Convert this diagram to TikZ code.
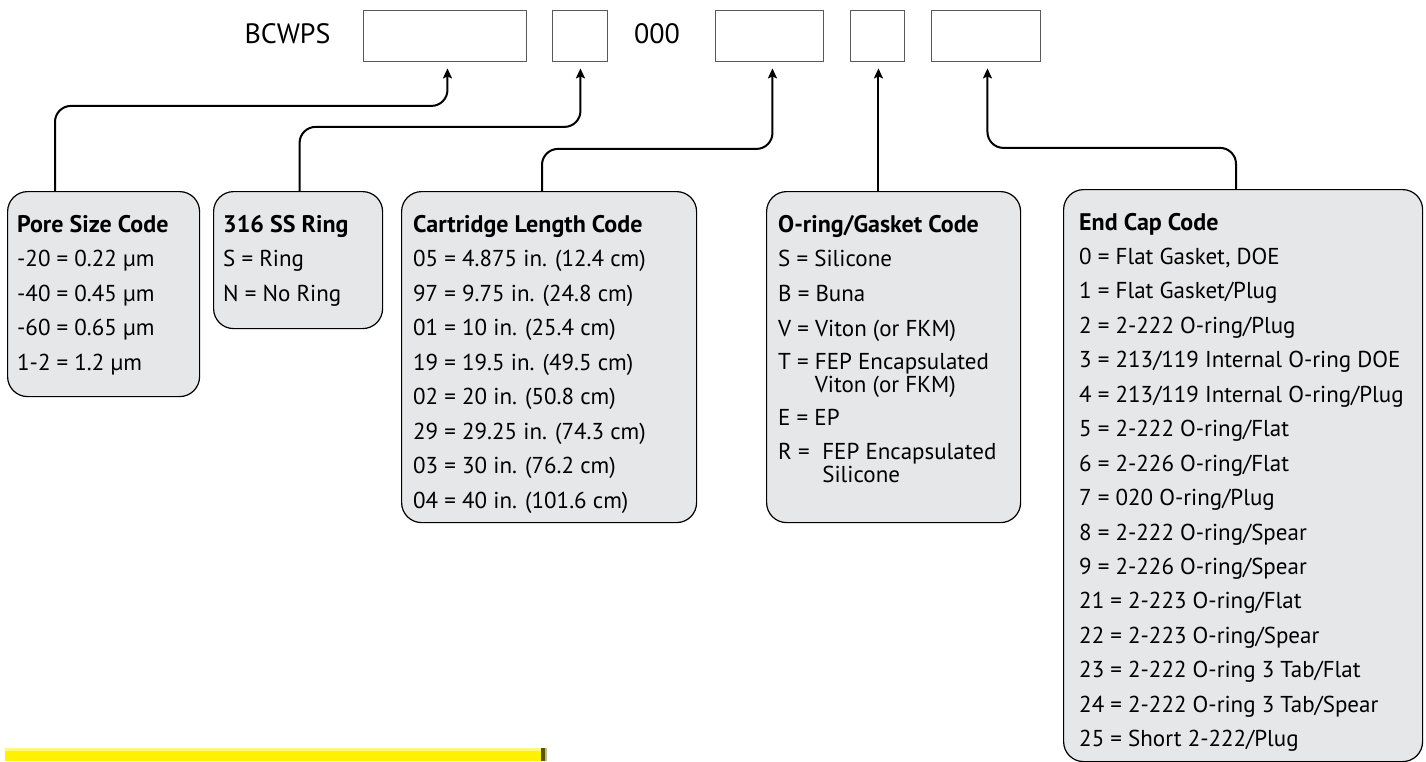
\documentclass[tikz,border=0pt]{standalone}
\usepackage{fontspec}
\setmainfont{PT Sans}
\usetikzlibrary{arrows.meta,calc}
\definecolor{boxgray}{HTML}{E6E7E8}
\definecolor{barYellow}{HTML}{FFF200}
\definecolor{barLight}{HTML}{FFF77A}
\definecolor{barDark}{HTML}{5A5400}
\newcommand{\twolines}[2]{\vtop{\baselineskip=23pt\lineskiplimit=-100pt\hbox{#1}\hbox{#2}}}
\begin{document}
\begin{tikzpicture}[x=1pt,y=-1pt,
  codebox/.style={draw=black, line width=1.2pt, fill=boxgray, rounded corners=20pt, anchor=north west, inner sep=0pt},
  fieldbox/.style={draw=black!65, line width=0.9pt, fill=white, anchor=north west, inner sep=0pt, minimum height=51.5pt},
  conn/.style={line width=2pt, rounded corners=16pt, -{Stealth[length=10pt,width=9pt,inset=2pt]}, shorten >=6.5pt},
  txt/.style={anchor=base west, inner sep=0pt, font=\fontsize{23}{26}\selectfont},
  ttl/.style={anchor=base west, inner sep=0pt, font=\fontsize{24}{26}\selectfont\bfseries},
  toptxt/.style={anchor=base, inner sep=0pt, font=\fontsize{28}{30}\selectfont},
]
\useasboundingbox (0,0) rectangle (1426,761);

% top row
\node[toptxt] (pre) at (287.5,43) {BCWPS};
\node[fieldbox, minimum width=163pt] (b1) at (363,9.5) {};
\node[fieldbox, minimum width=55pt] (b2) at (552,9.5) {};
\node[toptxt] (mid) at (657,43) {000};
\node[fieldbox, minimum width=108pt] (b3) at (715,9.5) {};
\node[fieldbox, minimum width=54pt] (b4) at (850,9.5) {};
\node[fieldbox, minimum width=109pt] (b5) at (931,9.5) {};

% code boxes
\node[codebox, minimum width=192pt, minimum height=205pt] (pore) at (7,191) {};
\node[codebox, minimum width=169pt, minimum height=137pt] (ring) at (213,191) {};
\node[codebox, minimum width=295pt, minimum height=331pt] (cart) at (401,191) {};
\node[codebox, minimum width=254pt, minimum height=331pt] (oring) at (766,191) {};
\node[codebox, minimum width=359pt, minimum height=572pt] (endcap) at (1063,189) {};

% connectors
\draw[conn] ([xshift=48pt]pore.north west) |- ([xshift=2.5pt,yshift=-44pt]b1.south) -- ([xshift=2.5pt]b1.south);
\draw[conn] ([xshift=1.5pt]ring.north) |- ([xshift=0.5pt,yshift=-65pt]b2.south) -- ([xshift=0.5pt]b2.south);
\draw[conn] ([xshift=141pt]cart.north west) |- ([xshift=3pt,yshift=-87pt]b3.south) -- ([xshift=3pt]b3.south);
\draw[conn] ([xshift=1pt]b4.south |- oring.north) -- ([xshift=1pt]b4.south);
\draw[conn] ([xshift=173pt]endcap.north west) |- ([xshift=1.5pt,yshift=-86pt]b5.south) -- ([xshift=1.5pt]b5.south);

% pore size
\node[ttl] (pt) at (17,232) {Pore Size Code};
\foreach \t [count=\i] in {-20 = 0.22 µm, -40 = 0.45 µm, -60 = 0.65 µm, 1-2 = 1.2 µm}
  \node[txt] (p\i) at (17,{232+34.5*\i}) {\t};

% ring
\node[ttl] (rt) at (223,232) {316 SS Ring};
\foreach \t [count=\i] in {S = Ring, N = No Ring}
  \node[txt] (r\i) at (223,{232+34.5*\i}) {\t};

% cartridge
\node[ttl] (ct) at (413,232) {Cartridge Length Code};
\foreach \t [count=\i] in {05 = 4.875 in. (12.4 cm), 97 = 9.75 in. (24.8 cm), 01 = 10 in. (25.4 cm), 19 = 19.5 in. (49.5 cm), 02 = 20 in. (50.8 cm), 29 = 29.25 in. (74.3 cm), 03 = 30 in. (76.2 cm), 04 = 40 in. (101.6 cm)}
  \node[txt] (c\i) at (413,{232+34.5*\i}) {\t};

% o-ring
\node[ttl] (ot) at (778,232) {O-ring/Gasket Code};
\node[txt] (o1) at (778,266) {S = Silicone};
\node[txt] (o2) at (778,301) {B = Buna};
\node[txt] (o3) at (778,336) {V = Viton (or FKM)};
\node[txt] (o4) at (778,369) {\twolines{T = FEP Encapsulated}{\phantom{T = }Viton (or FKM)}};
\node[txt] (o5) at (778,425) {E = EP};
\node[txt] (o6) at (778,459) {\twolines{R =\hspace{0.55em}FEP Encapsulated}{\phantom{R =}\hspace{0.55em}Silicone}};

% end cap
\node[ttl] (et) at (1079,230) {End Cap Code};
\foreach \t [count=\i] in {{0 = Flat Gasket, DOE}, 1 = Flat Gasket/Plug, 2 = 2-222 O-ring/Plug, 3 = 213/119 Internal O-ring DOE, 4 = 213/119 Internal O-ring/Plug, 5 = 2-222 O-ring/Flat, 6 = 2-226 O-ring/Flat, 7 = 020 O-ring/Plug, 8 = 2-222 O-ring/Spear, 9 = 2-226 O-ring/Spear, 21 = 2-223 O-ring/Flat, 22 = 2-223 O-ring/Spear, 23 = 2-222 O-ring 3 Tab/Flat, 24 = 2-222 O-ring 3 Tab/Spear, 25 = Short 2-222/Plug}
  \node[txt] (e\i) at (1079,{230+34.45*\i}) {\t};

% yellow bar
\fill[barYellow] (5,748) rectangle (543,761);
\fill[barLight] (5,748) rectangle (543,751);
\fill[barDark] (541,748) rectangle (545,761);
\fill[barDark!40] (545,748) rectangle (547,761);
\end{tikzpicture}
\end{document}
